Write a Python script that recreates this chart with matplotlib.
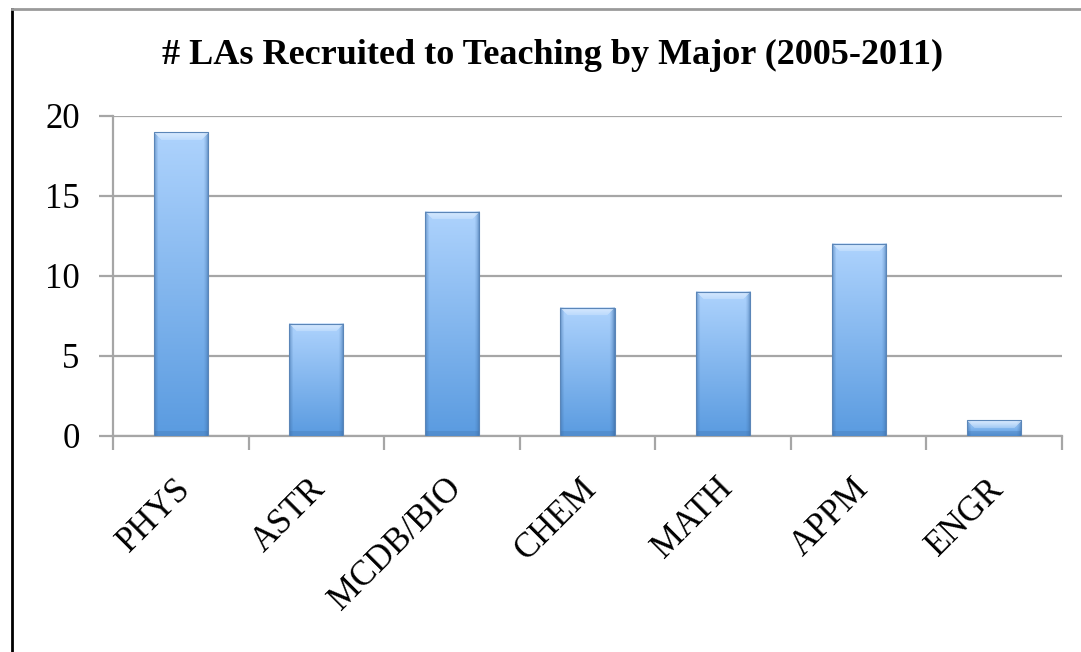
import numpy as np
import matplotlib
matplotlib.use("Agg")
import matplotlib.pyplot as plt
from matplotlib.lines import Line2D
from matplotlib.transforms import ScaledTranslation

categories = ["PHYS", "ASTR", "MCDB/BIO", "CHEM", "MATH", "APPM", "ENGR"]
values = [19, 7, 14, 8, 9, 12, 1]
yticks = [0, 5, 10, 15, 20]
title = "# LAs Recruited to Teaching by Major (2005-2011)"

plt.rcParams['font.family'] = ['Liberation Serif', 'DejaVu Serif']

W, H = 1081, 652
fig = plt.figure(figsize=(W / 100, H / 100), dpi=100)
fig.patch.set_facecolor('white')
ax = fig.add_axes([113 / W, 1 - 436 / H, (1062 - 113) / W, (436 - 116) / H])

n = len(categories)
xpos = np.arange(n)
ax.set_xlim(-0.5, n - 0.5)
ax.set_ylim(0, 20)

grid_col = '#a6a6a6'
ax.set_yticks(yticks)
ax.yaxis.grid(True, color=grid_col, linewidth=1.6)
ax.set_axisbelow(True)
for s in ['top', 'right']:
    ax.spines[s].set_visible(False)
for s in ['left', 'bottom']:
    ax.spines[s].set_color(grid_col)
    ax.spines[s].set_linewidth(1.6)

ax.tick_params(axis='y', length=10, width=1.6, color=grid_col, labelsize=25, pad=14)
ax.set_xticks(np.arange(n + 1) - 0.5, minor=False)
ax.set_xticklabels([])
ax.tick_params(axis='x', which='major', length=10, width=1.6, color=grid_col)
ax.set_xticks(xpos, minor=True)
ax.set_xticklabels(categories, minor=True, rotation=45, ha='right', va='top',
                   rotation_mode='anchor', fontsize=25)
ax.tick_params(axis='x', which='minor', length=0, pad=26)
offset = ScaledTranslation(-7 / 100, 0, fig.dpi_scale_trans)
for lab in ax.get_xticklabels(minor=True):
    lab.set_transform(lab.get_transform() + offset)

bw = 0.4
bars = ax.bar(xpos, values, width=bw, color='none', edgecolor='none', zorder=2)

top_col = np.array([0xae, 0xd3, 0xfd]) / 255
bot_col = np.array([0x5a, 0x9b, 0xe0]) / 255
edge_dark = np.array([0x3e, 0x6f, 0xa8]) / 255
hl = np.array([0xee, 0xf6, 0xff]) / 255

px_per_unit = (436 - 116) / 20.0
bar_px_w = int(round(bw * (1062 - 113) / n))
for b, v in zip(bars, values):
    ny = max(int(round(v * px_per_unit)), 4)
    nx = bar_px_w
    t = np.linspace(0, 1, ny)[:, None, None]
    img = top_col * (1 - t) + bot_col * t
    img = np.broadcast_to(img, (ny, nx, 3)).copy()
    # side darkening
    for k, a in [(0, 0.6), (1, 0.4), (2, 0.25), (3, 0.12)]:
        img[:, k, :] = img[:, k, :] * (1 - a) + edge_dark * a
    for k, a in [(0, 0.7), (1, 0.5), (2, 0.32), (3, 0.18), (4, 0.08)]:
        img[:, nx - 1 - k, :] = img[:, nx - 1 - k, :] * (1 - a) + edge_dark * a
    # top bevel (trapezoid highlight)
    bev = min(8, ny // 2)
    for r in range(bev):
        lo, hi = r, nx - 1 - r
        a = 0.65 - 0.35 * r / max(bev - 1, 1)
        img[r, lo:hi + 1, :] = img[r, lo:hi + 1, :] * (1 - a) + hl * a
    # bottom bevel darker
    bb = min(5, ny // 3)
    for r in range(bb):
        rr = ny - 1 - r
        img[rr, :, :] = img[rr, :, :] * 0.7 + edge_dark * 0.3
    x0 = b.get_x()
    ax.imshow(img, extent=[x0, x0 + bw, 0, v], aspect='auto', zorder=3,
              interpolation='bilinear')
    ax.add_patch(plt.Rectangle((x0, 0), bw, v, fill=False, edgecolor='#5b86b8',
                               linewidth=0.8, zorder=4))

ax.set_xlim(-0.5, n - 0.5)
ax.set_ylim(0, 20)

fig.text(553 / W, 1 - 55 / H, title, ha='center', va='center',
         fontsize=26, fontweight='bold')

fig.add_artist(Line2D([12 / W, 12 / W], [0, 1 - 9 / H], color='black', linewidth=2,
                      transform=fig.transFigure))
fig.add_artist(Line2D([12 / W, 1], [1 - 9 / H, 1 - 9 / H], color='#9a9a9a', linewidth=2,
                      transform=fig.transFigure))

fig.savefig('out.png', dpi=100, facecolor='white')
